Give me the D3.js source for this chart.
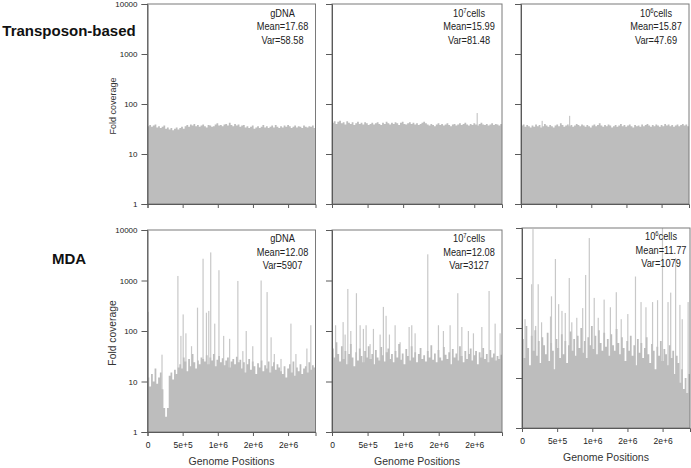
<!DOCTYPE html>
<html><head><meta charset="utf-8">
<script src="https://cdn.jsdelivr.net/npm/d3@7"></script>
<style>body{margin:0;background:#fff}svg{display:block}text{font-family:"Liberation Sans",Arial,sans-serif}</style>
</head><body><svg id="c" width="691" height="468"></svg>
<script>
// ---------------- data ----------------
const rowLabels = ["Transposon-based", "MDA"];
const sampleNames = ["gDNA", "10|7|cells", "10|6|cells"];
const meanLabels = [["17.68", "15.99", "15.87"], ["12.08", "12.08", "11.77"]];
const varLabels = [["58.58", "81.48", "47.69"], ["5907", "3127", "1079"]];
const yTickValues = [1, 10, 100, 1000, 10000];
const yTickLabels = ["1", "10", "100", "1000", "10000"];
const xTickValues = [0, 5e5, 1e6, 1.5e6, 2e6];
const xTickLabels = ["0", "5e+5", "1e+6", "2e+6", "2e+6"];
const genomeLength = 2390000;

// binned fold coverage (equal bins across the genome)
const covTnGdna = [36,38,35,37,39,34,36,33,35,37,32,34,31,33,30,32,34,31,33,35,32,36,38,35,39,37,40,36,38,35,37,39,36,34,38,37,35,36,39,41,37,38,36,39,40,37,42,38,36,40,37,39,35,37,38,34,36,33,35,37,32,34,36,33,35,38,34,36,33,35,37,34,38,35,33,36,34,37,35,38,36,33,35,37,34,36,35,33,37,35,34,36,35,37,33];
const covTn7 = [42,45,40,44,46,41,43,39,45,42,40,43,38,41,44,40,42,39,43,41,38,40,42,39,41,43,40,38,42,40,44,41,39,42,40,43,41,38,42,44,40,39,41,43,40,42,39,41,38,40,42,44,41,39,37,40,38,36,39,41,38,40,37,39,41,38,36,39,40,37,39,41,38,40,42,39,37,40,38,41,39,37,40,42,39,38,40,37,39,41,38,40,39,37,40];
const covTn6 = [37,39,35,38,36,34,37,35,39,36,38,34,36,40,37,35,38,36,34,37,39,36,41,38,35,37,39,36,38,35,37,40,38,36,39,37,35,38,36,34,37,39,36,38,41,37,35,38,36,39,37,34,36,38,35,37,40,36,38,35,37,39,36,34,38,36,37,35,39,36,38,40,37,35,38,36,39,37,35,38,36,40,37,39,36,38,35,37,39,36,38,40,37,39,36];
const covMdaGdna = [12,8,14,10,18,9,12,15,7, 3,2,3, 13,15,11,17,14,19, 22,18,30,25,16,28,20,35,24,18,26,22,30, 28,25,33,22,30,26,35,20,27,32,24,29,21,26,30,19,25,28,22,31,24,27, 18,24,15,22,28,17,25,20,14,23,19,26,16,21,18,25,15,20,24,17,22,19,16, 14,20,12,18,22,15,25,13,19,16,22,14,18,20,15,24,17,21,19];
const covMda7 = [45,30,60,35,25,50,28,40,22,35,55,30,20,38,26,45,32,24,40,30,50,28,35,22,42,30,26,48,33,25,38,45,28,35,24,40,30,55,27,36,22,44,32,26,50,30,38,24,35,46,28,33,25,40,30,52,27,36,24,42,30,26,48,34,28,38,22,44,30,36,26,50,32,24,40,28,35,45,26,33,40,22,38,30,46,28,35,24,42,30,36,26,32,28,34];
const covMda6 = [60,25,110,40,18,70,35,90,28,55,20,65,45,30,80,22,50,35,15,60,40,25,75,30,55,20,45,85,35,60,28,70,40,100,32,55,25,65,45,110,38,70,30,90,50,35,80,42,60,28,75,45,35,95,50,30,65,40,22,55,35,70,28,45,18,60,32,50,25,40,65,30,20,48,35,15,42,28,55,22,38,30,18,45,25,35,12,28,20,8,15,6,10,5,12];

// isolated high-coverage positions: [genome position, fold coverage]
const spikesTnGdna = [];
const spikesTn7 = [[2040000,66]];
const spikesTn6 = [[300000,46],[690000,58]];
const spikesMdaGdna = [[7000,240],[205000,34],[431000,1230],[474000,80],[506000,213],[545000,90],[625000,50],[710000,290],[789000,2700],[837000,230],[870000,250],[898000,3600],[955000,140],[1015000,1600],[1082000,80],[1167000,70],[1284000,980],[1355000,40],[1403000,100],[1496000,50],[1615000,1000],[1700000,590],[1757000,75],[1803000,35],[1898000,28],[2039000,140],[2110000,35],[2266000,45],[2322000,130]];
const spikesMda7 = [[49000,130],[155000,150],[183000,85],[221000,680],[263000,100],[342000,560],[394000,130],[440000,110],[478000,130],[534000,55],[581000,110],[675000,85],[721000,300],[759000,200],[806000,85],[886000,130],[956000,60],[1083000,120],[1120000,130],[1167000,90],[1345000,3300],[1495000,130],[1565000,100],[1659000,130],[1767000,560],[1824000,120],[1916000,100],[1987000,90],[2105000,120],[2207000,620],[2292000,140],[2362000,90]];
const spikesMda6 = [[42000,150],[136000,750],[155000,9500],[193000,110],[229000,750],[277000,130],[404000,170],[418000,430],[474000,2400],[520000,300],[567000,220],[614000,200],[671000,1000],[707000,130],[778000,160],[862000,250],[904000,1150],[956000,6300],[1026000,400],[1083000,160],[1167000,370],[1256000,260],[1340000,520],[1410000,150],[1504000,190],[1613000,1070],[1692000,330],[1762000,260],[1856000,330],[1927000,360],[1997000,10000],[2076000,330],[2114000,510],[2184000,2500],[2245000,290],[2278000,150],[2362000,330]];

const coverage = [[covTnGdna, covTn7, covTn6], [covMdaGdna, covMda7, covMda6]];
const spikes = [[spikesTnGdna, spikesTn7, spikesTn6], [spikesMdaGdna, spikesMda7, spikesMda6]];

// ---------------- layout ----------------
const svg = d3.select("#c");
const panelGeom = [
  [{x0:147.5,x1:315.5,y0:4,y1:204},{x0:332,x1:502,y0:4,y1:204},{x0:521,x1:689,y0:4,y1:204}],
  [{x0:147.5,x1:315.5,y0:230,y1:432},{x0:332,x1:502,y0:230,y1:432},{x0:522,x1:690,y0:228,y1:428}]
];
const rowFont = [{fc:9, ann:11, annY:[13,26.5,40]}, {fc:10.3, ann:11, annY:[12,26,39.5]}];
const barColor = "#bdbdbd", spikeColor = "#c8c8c8", axisColor = "#5a5a5a";

rowLabels.forEach((lab, r) => {
  svg.append("text").attr("x", 69).attr("y", r === 0 ? 36 : 264)
    .attr("text-anchor", "middle").attr("font-weight", "bold").attr("font-size", 15)
    .attr("fill", "#111").text(lab);
});

for (let r = 0; r < 2; r++) {
  for (let c = 0; c < 3; c++) {
    const g = panelGeom[r][c];
    const x = d3.scaleLinear().domain([0, genomeLength]).range([g.x0, g.x1]);
    const y = d3.scaleLog().domain([1, 10000]).range([g.y1, g.y0]).clamp(true);
    const pg = svg.append("g");
    const cov = coverage[r][c];
    const bin = genomeLength / cov.length;
    // spikes behind the dense coverage
    pg.selectAll("rect.sp").data(spikes[r][c]).enter().append("rect")
      .attr("x", d => x(d[0]) - 0.5).attr("width", 1.2)
      .attr("y", d => y(d[1])).attr("height", d => y(1) - y(d[1]))
      .attr("fill", spikeColor);
    const pts = cov.map((v, i) => [i * bin, v]).concat([[genomeLength, cov[cov.length - 1]]]);
    const area = d3.area().curve(d3.curveStepAfter)
      .x(d => x(d[0])).y0(y(1)).y1(d => y(d[1]));
    pg.append("path").attr("d", area(pts)).attr("fill", barColor);

    // frame
    pg.append("rect").attr("x", g.x0).attr("y", g.y0).attr("width", g.x1 - g.x0).attr("height", g.y1 - g.y0)
      .attr("fill", "none").attr("stroke", "#7a7a7a").attr("stroke-width", 1);
    // y axis
    const ya = d3.axisLeft(y).tickValues(yTickValues).tickSize(6).tickPadding(4)
      .tickFormat((d, i) => c === 0 ? yTickLabels[i] : "");
    const yg = svg.append("g").attr("transform", `translate(${g.x0},0)`).call(ya);
    yg.select(".domain").attr("stroke", axisColor);
    yg.selectAll(".tick line").attr("stroke", axisColor);
    yg.selectAll(".tick text").attr("font-size", 8).attr("fill", "#222")
      .attr("font-family", "'Liberation Sans',Arial,sans-serif");
    // x axis
    const xa = d3.axisBottom(x).tickValues(xTickValues).tickSize(4).tickPadding(6)
      .tickFormat((d, i) => r === 1 ? xTickLabels[i] : "");
    const xg = svg.append("g").attr("transform", `translate(0,${g.y1})`).call(xa);
    xg.select(".domain").attr("stroke", axisColor);
    xg.selectAll(".tick line").attr("stroke", axisColor);
    xg.selectAll(".tick text").attr("font-size", 8.5).attr("fill", "#222")
      .attr("font-family", "'Liberation Sans',Arial,sans-serif");

    if (c === 0) {
      svg.append("text")
        .attr("transform", `translate(116,${(g.y0 + g.y1) / 2 + 2}) rotate(-90)`)
        .attr("text-anchor", "middle").attr("font-size", rowFont[r].fc).attr("fill", "#333")
        .text("Fold coverage");
    }
    if (r === 1) {
      svg.append("text").attr("x", (g.x0 + g.x1) / 2).attr("y", g.y1 + 33)
        .attr("text-anchor", "middle").attr("font-size", 10.5).attr("fill", "#333")
        .text("Genome Positions");
    }

    // annotation
    const cx = g.x1 - (r === 1 && c === 2 ? 29 : 33);
    const ann = svg.append("g").attr("transform", `translate(${cx},${g.y0}) scale(0.84,1)`);
    const lines = [sampleNames[c], "Mean=" + meanLabels[r][c], "Var=" + varLabels[r][c]];
    lines.forEach((t, i) => {
      const tx = ann.append("text").attr("x", 0).attr("y", rowFont[r].annY[i])
        .attr("text-anchor", "middle").attr("font-size", rowFont[r].ann).attr("fill", "#222");
      if (t.includes("|")) {
        const p = t.split("|");
        tx.append("tspan").text(p[0]);
        tx.append("tspan").attr("font-size", 7).attr("dy", -4).text(p[1]);
        tx.append("tspan").attr("dy", 4).text(p[2]);
      } else tx.text(t);
    });
  }
}
</script></body></html>
